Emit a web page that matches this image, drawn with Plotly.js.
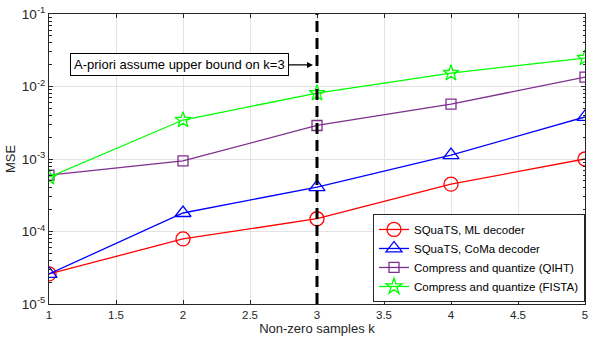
<!DOCTYPE html>
<html><head><meta charset="utf-8">
<script src="https://cdn.plot.ly/plotly-3.0.1.min.js"></script>
<style>html,body{margin:0;padding:0;background:#fff}#c{width:598px;height:342px}</style>
</head><body><div id="c"></div>
<script>
const k = [1, 2, 3, 4, 5];
const mlDecoder = [2.6e-5, 7.9e-5, 1.5e-4, 4.5e-4, 1.0e-3];
const comaDecoder = [2.6e-5, 1.8e-4, 4.1e-4, 1.13e-3, 3.8e-3];
const qiht = [6.0e-4, 9.4e-4, 2.9e-3, 5.7e-3, 1.35e-2];
const fista = [5.6e-4, 3.45e-3, 8.1e-3, 1.53e-2, 2.47e-2];
const names = ['SQuaTS, ML decoder', 'SQuaTS, CoMa decoder', 'Compress and quantize (QIHT)', 'Compress and quantize (FISTA)'];
const xTicks = [1, 1.5, 2, 2.5, 3, 3.5, 4, 4.5, 5];
const yTickVals = [1e-5, 1e-4, 1e-3, 1e-2, 1e-1];
const yTickText = ['10<sup>-5</sup>', '10<sup>-4</sup>', '10<sup>-3</sup>', '10<sup>-2</sup>', '10<sup>-1</sup>'];
const boundK = 3;
const annoText = 'A-priori assume upper bound on k=3';

const minorVals = [];
for (let d = 0; d < yTickVals.length - 1; d++) {
  for (let m = 2; m <= 9; m++) minorVals.push(yTickVals[d] * m);
}

function tr(y, name, color, symbol, size) {
  return {x: k, y: y, name: name, type: 'scatter', mode: 'lines+markers',
    line: {color: color, width: 1.3},
    marker: {symbol: symbol, size: size, color: color, line: {color: color, width: 1.3}}};
}
const data = [
  tr(mlDecoder, names[0], '#ff0000', 'circle-open', 14),
  tr(comaDecoder, names[1], '#0000ff', 'triangle-up-open', 14),
  tr(qiht, names[2], '#7e2f8e', 'square-open', 10),
  tr(fista, names[3], '#00ff00', 'star-open', 12)
];
const axCol = '#262626';
const layout = {
  width: 598, height: 342,
  margin: {l: 49, r: 13, t: 14, b: 38},
  paper_bgcolor: '#fff', plot_bgcolor: '#fff',
  font: {family: 'Liberation Sans, Arial, sans-serif', size: 11, color: axCol},
  showlegend: true,
  xaxis: {range: [1, 5], tickvals: xTicks, ticktext: xTicks.map(String),
    ticks: 'inside', ticklen: 4, tickcolor: axCol, showline: true, linecolor: axCol, linewidth: 1,
    mirror: 'ticks', showgrid: true, gridcolor: '#e3e3e3', zeroline: false,
    tickfont: {size: 11.5, color: axCol},
    title: {text: 'Non-zero samples k', font: {size: 13, color: axCol}, standoff: 4}},
  yaxis: {type: 'log', range: [-5, -1], tickvals: yTickVals, ticktext: yTickText,
    ticks: 'inside', ticklen: 4, tickcolor: axCol, showline: true, linecolor: axCol, linewidth: 1,
    mirror: 'ticks', showgrid: true, gridcolor: '#e3e3e3', zeroline: false,
    tickfont: {size: 13.5, color: axCol},
    minor: {tickmode: 'array', tickvals: minorVals, ticks: 'inside', ticklen: 2.5, tickcolor: axCol, tickwidth: 1, showgrid: false},
    title: {text: 'MSE', font: {size: 13, color: axCol}, standoff: 3}},
  legend: {x: 1, xanchor: 'right', y: 0.007, yanchor: 'bottom',
    bgcolor: '#fff', bordercolor: axCol, borderwidth: 1,
    font: {size: 11.5, color: '#000'}, tracegroupgap: 0, itemwidth: 30},
  shapes: [{type: 'line', xref: 'x', yref: 'paper', x0: boundK, x1: boundK, y0: 0, y1: 1,
    line: {color: '#000', width: 3, dash: '11px,6px'}}],
  annotations: [{x: boundK, y: -1.703, xref: 'x', yref: 'y', text: annoText,
    showarrow: true, arrowhead: 2, arrowsize: 1, arrowwidth: 1.2, arrowcolor: '#000',
    ax: -138, ay: 0, font: {size: 13, color: '#000'},
    bordercolor: '#000', borderwidth: 1, borderpad: 3, bgcolor: '#fff', standoff: 4}]
};
Plotly.newPlot('c', data, layout, {displayModeBar: false, staticPlot: true});
</script></body></html>
